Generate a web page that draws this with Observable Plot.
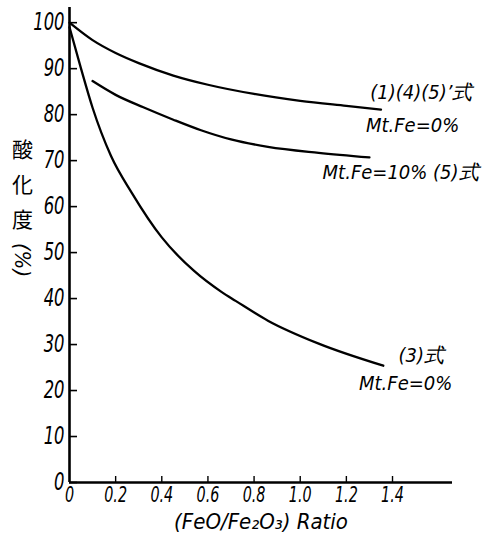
<!DOCTYPE html>
<html>
<head>
<meta charset="utf-8">
<script src="https://cdn.jsdelivr.net/npm/d3@7"></script>
<script src="https://cdn.jsdelivr.net/npm/@observablehq/plot@0.6"></script>
<style>
  body { margin: 0; background: #fff; }
  #chart svg { display: block; }
</style>
</head>
<body>
<div id="chart"></div>
<script>
// ---- data ----
const curveTopX = [0, 0.1, 0.2, 0.3, 0.45, 0.6, 0.8, 1.0, 1.2, 1.35];
const curveTopY = [100, 96.2, 93.4, 91.2, 88.5, 86.5, 84.5, 83.0, 81.9, 81.1];

const curveMidX = [0.1, 0.2, 0.32, 0.45, 0.57, 0.7, 0.86, 1.08, 1.3];
const curveMidY = [87.3, 84.3, 81.6, 78.9, 76.6, 74.6, 73.0, 71.7, 70.7];

const curveLowX = [0, 0.05, 0.1, 0.18, 0.27, 0.4, 0.54, 0.66, 0.72, 0.86, 1.08, 1.36];
const curveLowY = [99, 90.0, 81.5, 71.0, 63.0, 53.3, 46.0, 41.4, 39.5, 35.2, 30.2, 25.4];

const xTicks = [0, 0.2, 0.4, 0.6, 0.8, 1.0, 1.2, 1.4];
const xTickLabels = ["0", "0.2", "0.4", "0.6", "0.8", "1.0", "1.2", "1.4"];
const yTicks = [0, 10, 20, 30, 40, 50, 60, 70, 80, 90, 100];
const yTickLabels = ["0", "10", "20", "30", "40", "50", "60", "70", "80", "90", "100"];

const labelTexts = ["(1)(4)(5)’式", "Mt.Fe=0%", "Mt.Fe=10% (5)式", "(3)式", "Mt.Fe=0%"];
const labelX = [1.525, 1.487, 1.435, 1.525, 1.457];
const labelY = [84.8, 77.6, 67.4, 27.6, 21.5];

const xTitle = "(FeO/Fe₂O₃) Ratio";
const yTitleChars = "酸\n化\n度";
const yTitleUnit = "(%)";

// ---- build tables ----
const toPts = (xs, ys) => xs.map((x, i) => ({x, y: ys[i]}));
const ptsTop = toPts(curveTopX, curveTopY);
const ptsMid = toPts(curveMidX, curveMidY);
const ptsLow = toPts(curveLowX, curveLowY);
const labelRows = labelTexts.map((t, i) => ({t, x: labelX[i], y: labelY[i]}));

const W = 483, H = 542;
const mL = 69, mR = 31, mT = 7, mB = 60;
const frameW = W - mL - mR, frameH = H - mT - mB;
const xMax = 1.66, yMax = 103.3;
const FONT = "'DejaVu Sans Condensed', 'DejaVu Sans', sans-serif";
const CJK = "'Noto Sans CJK JP', 'Noto Sans CJK SC', sans-serif";

const chart = Plot.plot({
  width: W,
  height: H,
  marginLeft: mL,
  marginRight: mR,
  marginTop: mT,
  marginBottom: mB,
  style: {fontFamily: FONT, fontSize: "21px", fontStyle: "italic", color: "#000", background: "#fff"},
  x: {domain: [0, xMax], axis: null},
  y: {domain: [0, yMax], axis: null},
  marks: [
    Plot.axisY(yTicks, {anchor: "left", label: null, tickSize: 0, tickPadding: 5,
      tickFormat: (d, i) => yTickLabels[i], fontSize: 24, fontFamily: FONT, fontStyle: "italic", fill: "#000"}),
    Plot.axisX(xTicks, {anchor: "bottom", label: null, tickSize: 0, tickPadding: 5,
      tickFormat: (d, i) => xTickLabels[i], fontSize: 21, fontFamily: FONT, fontStyle: "italic", fill: "#000"}),
    Plot.tickY(yTicks, {y: d => d, insetRight: frameW - 8, stroke: "#000", strokeWidth: 1.6}),
    Plot.tickX(xTicks.slice(1), {x: d => d, insetTop: frameH - 6, stroke: "#000", strokeWidth: 1.4}),
    Plot.ruleX([0], {y1: 0, y2: yMax, stroke: "#000", strokeWidth: 2.6}),
    Plot.ruleY([0], {x1: 0, x2: xMax, stroke: "#000", strokeWidth: 2.4}),
    Plot.line(ptsTop, {x: "x", y: "y", curve: "monotone-x", stroke: "#000", strokeWidth: 2.3}),
    Plot.line(ptsMid, {x: "x", y: "y", curve: "monotone-x", stroke: "#000", strokeWidth: 2.3}),
    Plot.line(ptsLow, {x: "x", y: "y", curve: "monotone-x", stroke: "#000", strokeWidth: 2.3}),
    Plot.text(labelRows, {x: "x", y: "y", text: "t", textAnchor: "middle", fontSize: 20,
      fontFamily: FONT, fontStyle: "italic", fill: "#000"}),
    Plot.text([xTitle], {frameAnchor: "bottom", dy: 46, textAnchor: "middle", fontSize: 22,
      fontFamily: FONT, fontStyle: "italic", fill: "#000"}),
    Plot.text([yTitleChars], {frameAnchor: "left", dx: -47, dy: -64, textAnchor: "middle",
      lineHeight: 1.67, fontSize: 21, fontFamily: CJK, fontStyle: "normal", fill: "#000"}),
    Plot.text([yTitleUnit], {frameAnchor: "left", dx: -47, dy: 15, rotate: 90, textAnchor: "middle",
      fontSize: 22, fontFamily: FONT, fontStyle: "italic", fill: "#000"})
  ]
});
// narrow the tick-label digits like the condensed lettering of the original
chart.querySelectorAll('g[aria-label="y-axis tick label"] text, g[aria-label="x-axis tick label"] text')
  .forEach(t => {
    const tr = t.getAttribute("transform");
    if (tr) t.setAttribute("transform", tr + " scale(0.76,1)");
  });
document.getElementById("chart").appendChild(chart);
</script>
</body>
</html>
